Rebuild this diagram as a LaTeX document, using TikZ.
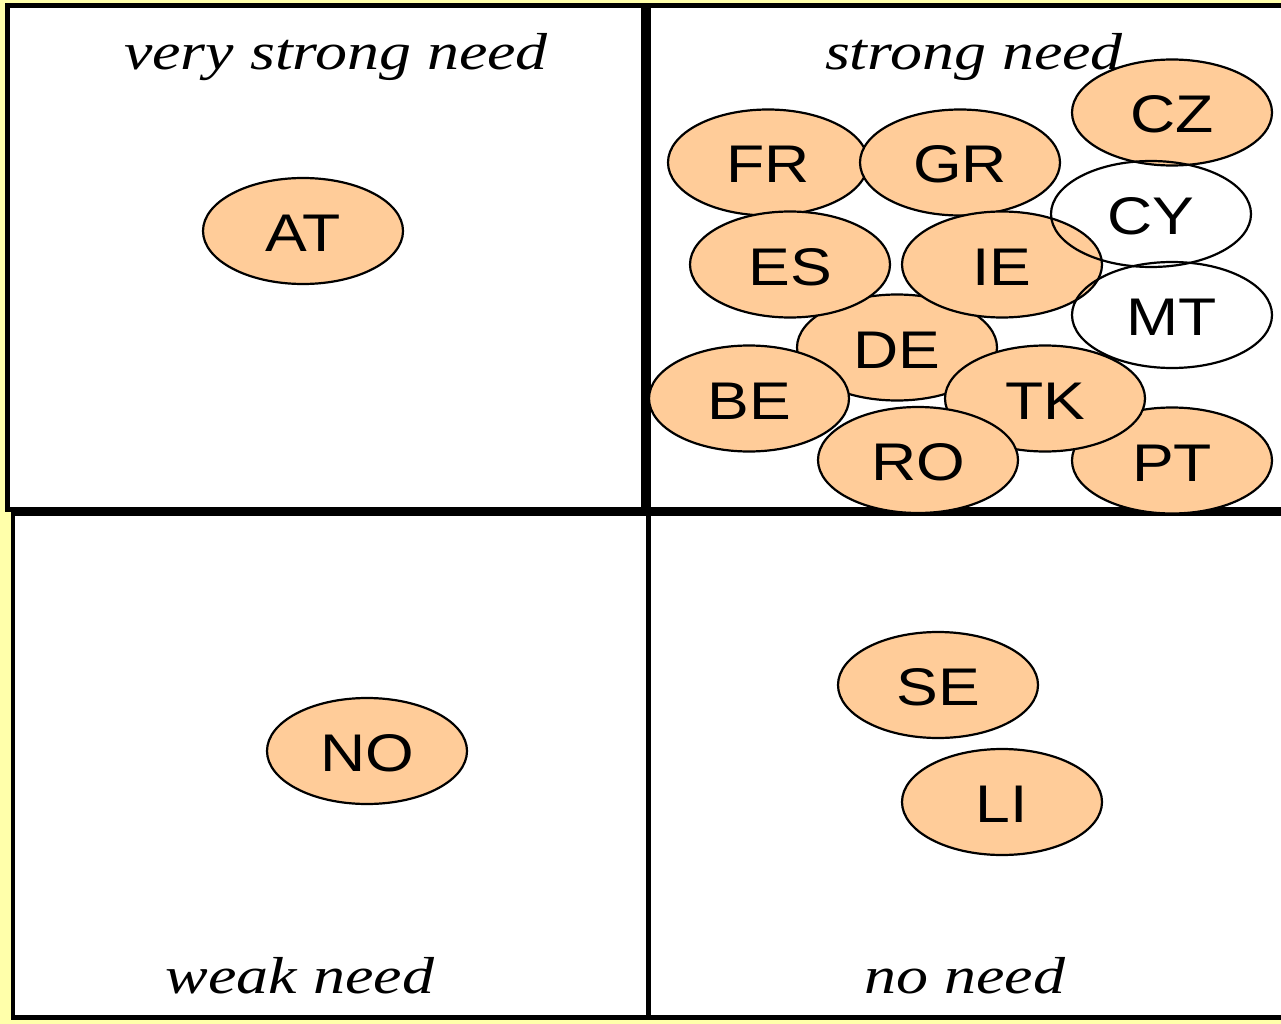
\documentclass[tikz,border=0pt]{standalone}
\usepackage{fontspec}
\usetikzlibrary{shapes.geometric}
\newfontfamily\labfont[FakeStretch=1.18]{Liberation Sans}
\newfontfamily\ttlfont[FakeStretch=1.23,ItalicFeatures={FakeStretch=1.23}]{Liberation Serif}
\definecolor{bgyellow}{RGB}{255,255,170}
\definecolor{peach}{RGB}{255,204,153}
\tikzset{
  country/.style={ellipse, draw=black, line width=2.2pt, minimum width=200pt, minimum height=106pt, inner sep=0pt, text height=41pt, text depth=0pt, font=\labfont\fontsize{53}{53}\selectfont},
  filled/.style={country, fill=peach},
  hollow/.style={country},
  quadtitle/.style={anchor=base, inner sep=0pt, font=\ttlfont\itshape\fontsize{52}{52}\selectfont},
  topbox/.style={draw=black, fill=white, line width=5pt},
  botbox/.style={draw=black, fill=white, line width=4.5pt}
}
\begin{document}
\begin{tikzpicture}[x=1pt,y=-1pt]
\useasboundingbox (0,0) rectangle (1281,1024);
\clip (0,0) rectangle (1281,1024);
\fill[bgyellow] (0,0) rectangle (1281,1024);
% quadrants
\draw[botbox] (13,514) rectangle (648.5,1017.5);
\draw[botbox] (648.5,514) rectangle (1300,1017.5);
\draw[topbox] (7.5,6) rectangle (643.5,509.5);
\draw[topbox] (648.5,6) rectangle (1300,509.5);
% titles
\node[quadtitle] (t1) at (336,70) {very strong need};
\node[quadtitle] (t2) at (974,70) {strong need};
\node[quadtitle] (t3) at (300,993) {weak need};
\node[quadtitle] (t4) at (965,993) {no need};
% countries
\node[filled] (AT) at (303,231) {AT};
\node[filled] (FR) at (768,162.5) {FR};
\node[filled] (GR) at (960,162.5) {GR};
\node[filled] (CZ) at (1172,112.5) {CZ};
\node[filled] (DE) at (897,347.5) {DE};
\node[filled] (ES) at (790,264.5) {ES};
\node[filled] (IE) at (1002,264.5) {IE};
\node[filled] (BE) at (749,398.5) {BE};
\node[filled] (PT) at (1172,460.5) {PT};
\node[filled] (TK) at (1045,398.5) {TK};
\node[filled] (RO) at (918,460) {RO};
\node[hollow] (CY) at (1151,214) {CY};
\node[hollow] (MT) at (1172,315) {MT};
\node[filled] (NO) at (367,751) {NO};
\node[filled] (SE) at (938,685) {SE};
\node[filled] (LI) at (1002,802) {LI};
\end{tikzpicture}
\end{document}
